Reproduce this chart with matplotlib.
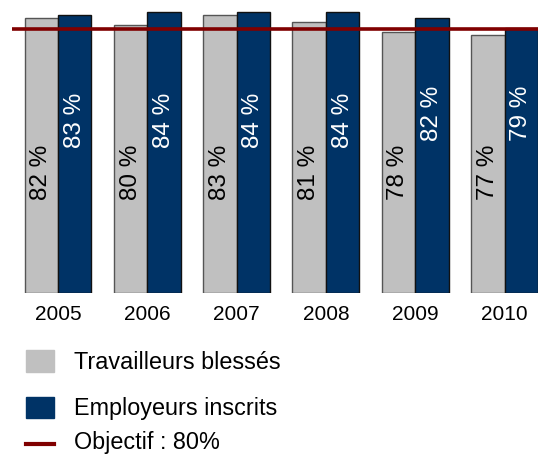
import numpy as np
import matplotlib.pyplot as plt
from matplotlib.patches import Rectangle
from matplotlib.lines import Line2D

plt.rcParams['font.family'] = ['Liberation Sans', 'DejaVu Sans']

years = ['2005', '2006', '2007', '2008', '2009', '2010']
travailleurs = [82, 80, 83, 81, 78, 77]
employeurs = [83, 84, 84, 84, 82, 79]
objectif = 78.8

grey = '#C0C0C0'
blue = '#003366'
red = '#800000'

W, H = 538, 455
fig = plt.figure(figsize=(W/100, H/100), dpi=100)
ax = fig.add_axes([12/W, 1 - 292.7/H, 1 - 12/W, 292.7/H])

x = np.arange(len(years))
w = 0.375
ax.bar(x - w/2, travailleurs, w, color=grey, edgecolor='#555555', linewidth=1)
ax.bar(x + w/2, employeurs, w, color=blue, edgecolor='#111111', linewidth=1)
ax.axhline(objectif, color=red, linewidth=2.6, zorder=3)

# value labels, rotated inside the bars
for i in range(len(years)):
    ax.text(x[i] - w/2, 36, f'{travailleurs[i]} %', rotation=90, ha='center', va='center',
            fontsize=17.5, color='black')
    ax.text(x[i] + w/2, 51.5 if i < 4 else 53.5, f'{employeurs[i]} %', rotation=90,
            ha='center', va='center', fontsize=17.5, color='white')

ax.set_xlim(-0.515, 5.375)
ax.set_ylim(0, 87.5)
ax.set_xticks(x)
ax.set_xticklabels(years, fontsize=15)
ax.set_yticks([])
ax.tick_params(axis='x', length=0, pad=9)
for s in ax.spines.values():
    s.set_visible(False)

# legend drawn by hand (pixel positions from the top)
def fy(py):
    return 1 - py / H

fig.add_artist(Rectangle((26/W, fy(371.7)), 28/W, 21.7/H, color=grey, transform=fig.transFigure))
fig.add_artist(Rectangle((26/W, fy(418.3)), 28/W, 21.7/H, color=blue, transform=fig.transFigure))
fig.add_artist(Line2D([26/W, 54/W], [fy(443.5), fy(443.5)], color=red, linewidth=3,
                      transform=fig.transFigure))
labels = ['Travailleurs blessés', 'Employeurs inscrits', 'Objectif : 80%']
for lab, base in zip(labels, [369.3, 415, 449]):
    fig.text(74/W, fy(base), lab, fontsize=16.8, va='baseline', ha='left')

fig.savefig('out.png', dpi=100)
